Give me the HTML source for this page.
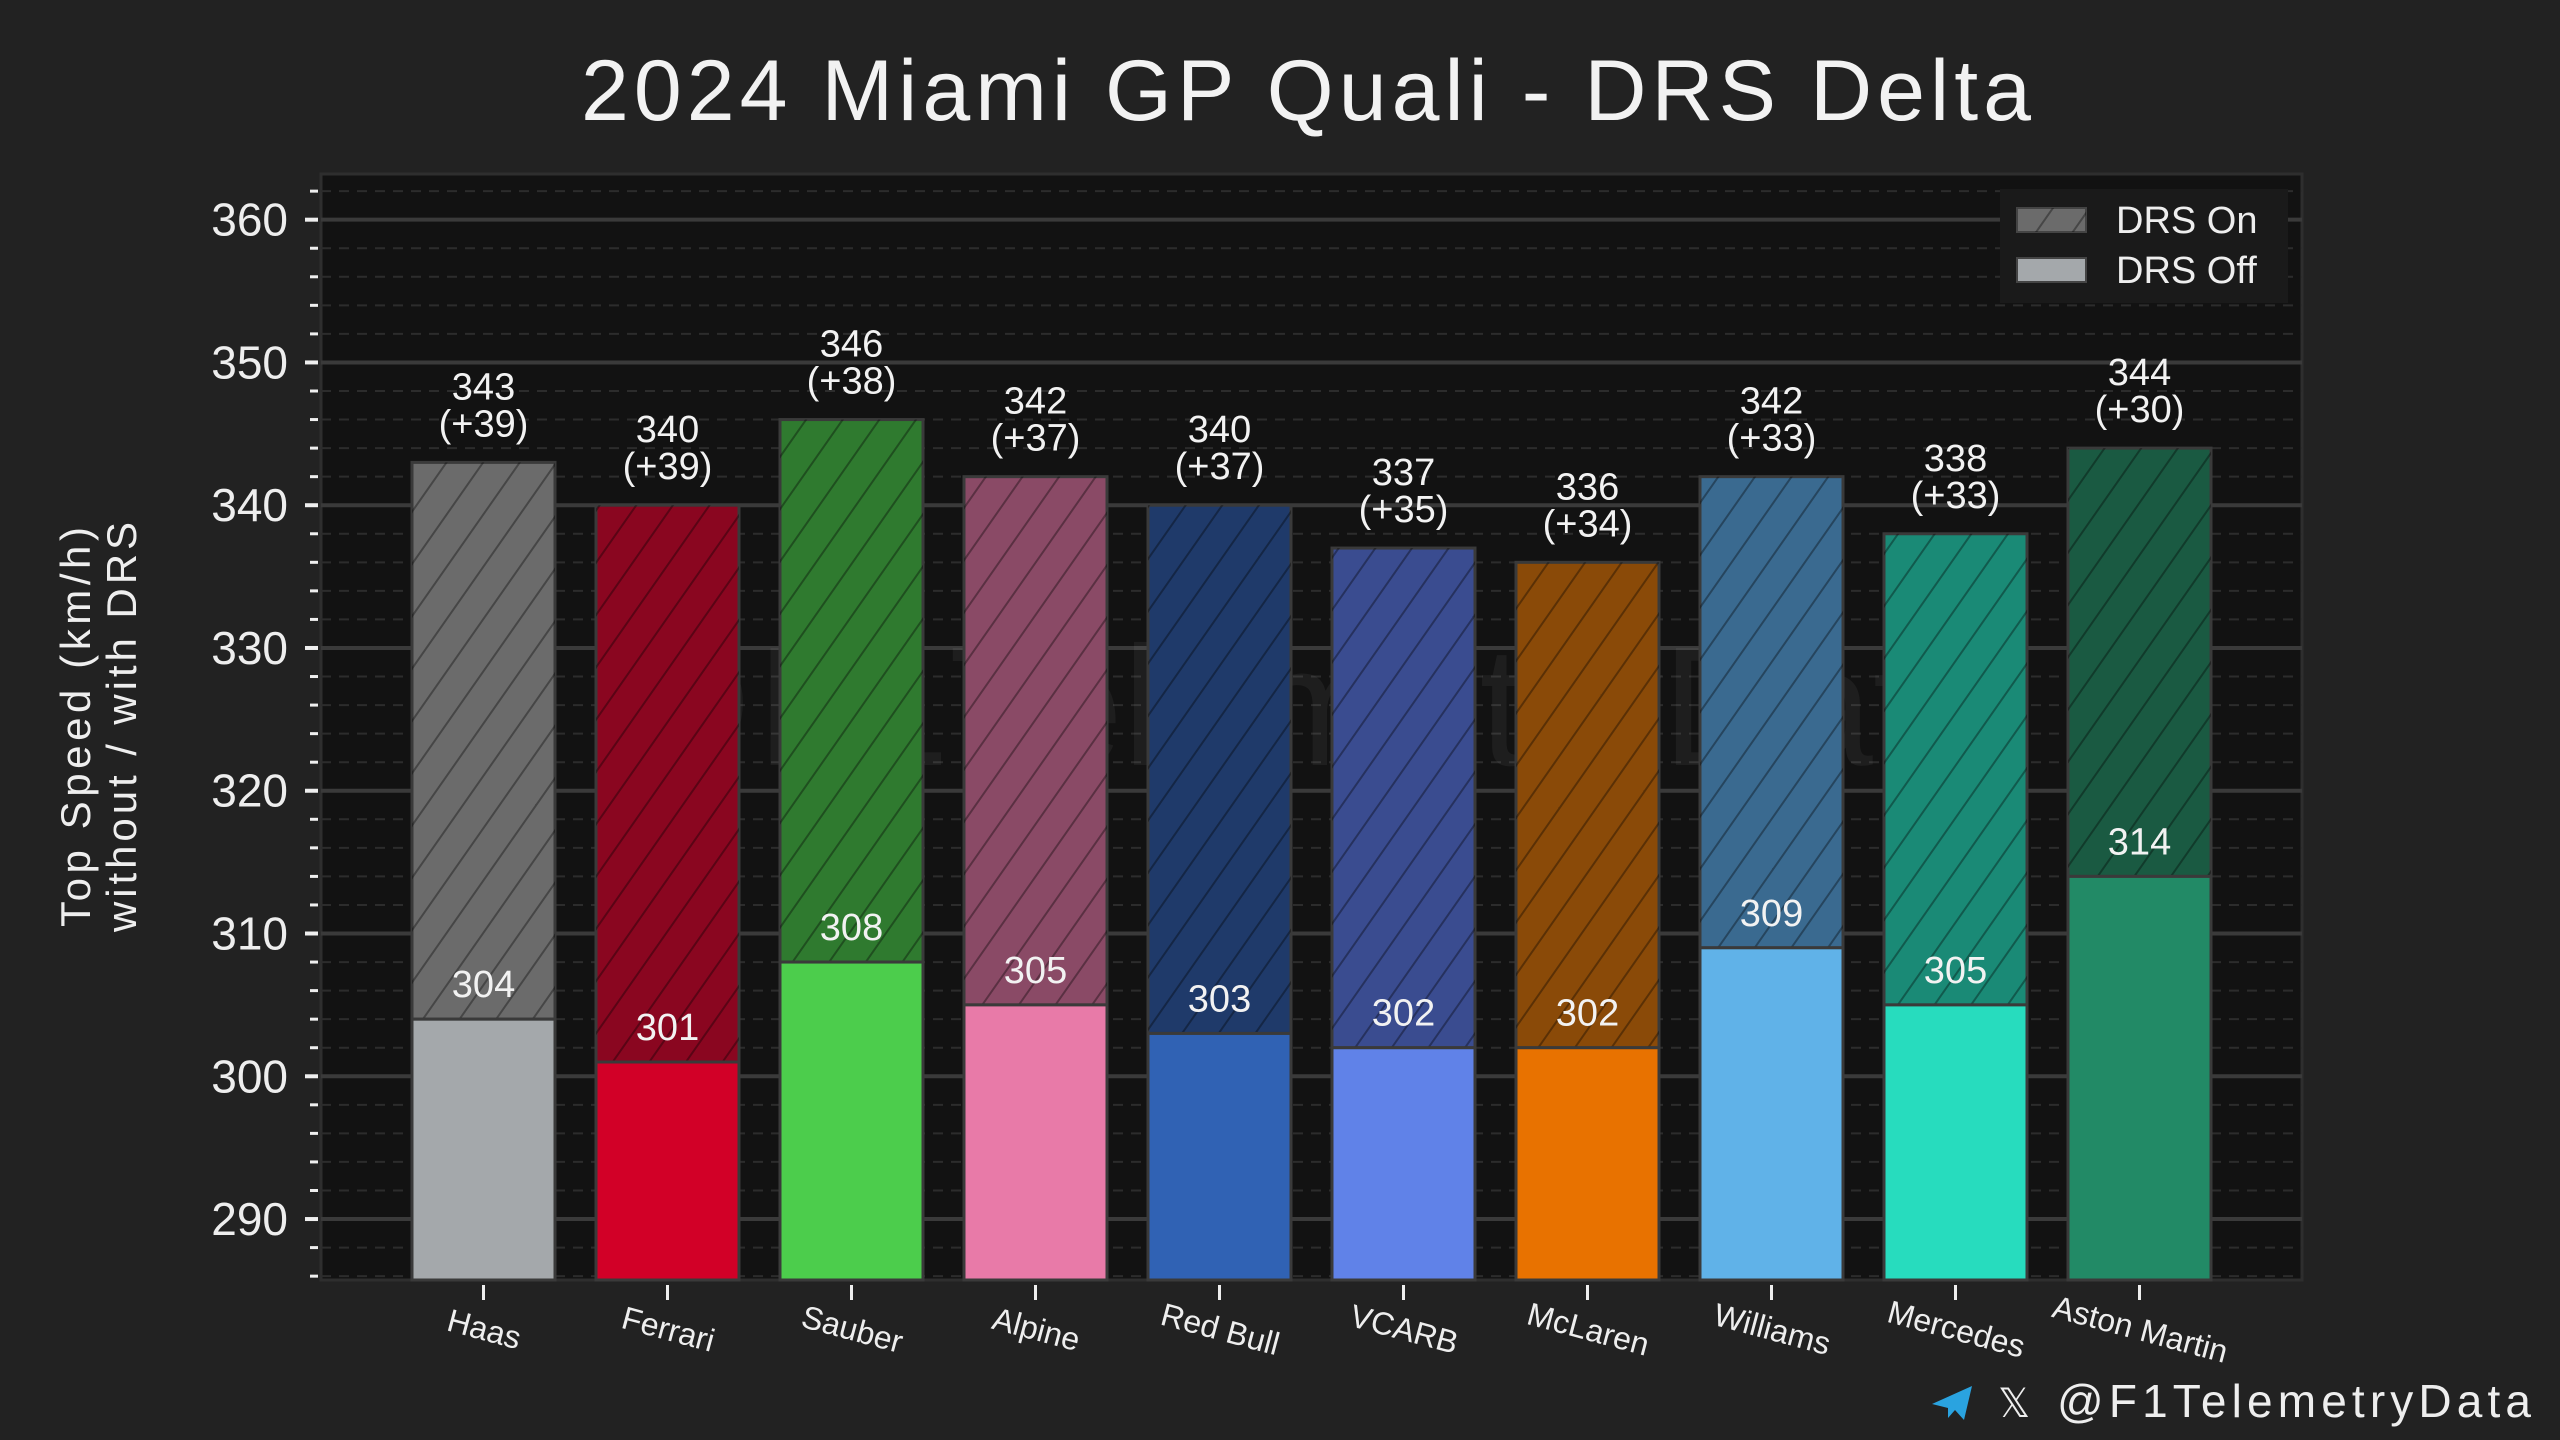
<!DOCTYPE html>
<html><head><meta charset="utf-8"><style>
html,body{margin:0;padding:0;background:#222222;}
svg{display:block;font-family:"Liberation Sans","DejaVu Sans",sans-serif;}
</style></head><body>
<svg id="chart" width="2560" height="1440" viewBox="0 0 2560 1440" xmlns="http://www.w3.org/2000/svg">
<defs>
<pattern id="hatch" patternUnits="userSpaceOnUse" width="30" height="30" patternTransform="rotate(35)">
<line x1="0" y1="0" x2="0" y2="30" stroke="#000" stroke-opacity="0.35" stroke-width="4"/>
</pattern>
</defs>
<rect width="2560" height="1440" fill="#222222"/>
<text x="1306" y="120" text-anchor="middle" font-size="86" fill="#f2f2f2" textLength="1450" lengthAdjust="spacing">2024 Miami GP Quali - DRS Delta</text>
<rect x="321" y="174" width="1981" height="1106" fill="#121212" stroke="#2e2e2e" stroke-width="3"/>
<g id="grid"></g>
<text x="1300" y="765" text-anchor="middle" font-size="170" fill="#ffffff" fill-opacity="0.05" textLength="1420" lengthAdjust="spacingAndGlyphs">@F1TelemetryData</text>
<g id="bars"></g>
<g id="yaxis"></g>
<g id="xaxis"></g>
<g transform="translate(100,727) rotate(-90)">
<text x="0" y="-10" text-anchor="middle" font-size="42" fill="#eeeeee" textLength="400" lengthAdjust="spacing">Top Speed (km/h)</text>
<text x="0" y="36" text-anchor="middle" font-size="42" fill="#eeeeee" textLength="410" lengthAdjust="spacing">without / with DRS</text>
</g>
<g>
<rect x="2000" y="189" width="288" height="114" fill="#1a1a1a"/>
<g>
<rect x="2017" y="208" width="69" height="24" fill="#6b6b6b" stroke="#444" stroke-width="2"/>
<rect x="2017" y="208" width="69" height="24" fill="url(#hatch)"/>
<text x="2116" y="233" font-size="38" fill="#eeeeee">DRS On</text>
</g>
<g>
<rect x="2017" y="258" width="69" height="24" fill="#a4a8ab" stroke="#444" stroke-width="2"/>
<text x="2116" y="283" font-size="38" fill="#eeeeee">DRS Off</text>
</g>
</g>
<g>
<path d="M1932 1404 L1972 1386 L1964 1420 L1955 1410 L1948 1418 L1948 1408 Z" fill="#2aa3e0"/>
<text x="1998" y="1417" font-size="40" fill="#eeeeee">𝕏</text>
<text x="2057" y="1417" font-size="46" fill="#eeeeee" textLength="474" lengthAdjust="spacing">@F1TelemetryData</text>
</g>
</svg>
<script>
const teams = ["Haas","Ferrari","Sauber","Alpine","Red Bull","VCARB","McLaren","Williams","Mercedes","Aston Martin"];
const drsOff = [304,301,308,305,303,302,302,309,305,314];
const drsOn = [343,340,346,342,340,337,336,342,338,344];
const offColors = ["#a4a8ab","#d20027","#4ccd4c","#e87aa8","#3062b4","#6082e8","#e87200","#60b2e8","#27dcbe","#228a66"];
const onColors = ["#6b6b6b","#8a0620","#2f7a2f","#8a4a66","#1f3a6a","#3a4c90","#8a4a08","#3a6a90","#1a8a76","#1a5a42"];
const yTicks = [290,300,310,320,330,340,350,360];

const NS="http://www.w3.org/2000/svg";
const plotL=321, plotR=2302, plotT=174, plotB=1280;
const yMin=285.73, yMax=363.2;
function y(v){return plotB-(v-yMin)/(yMax-yMin)*(plotB-plotT);}
function xc(i){return 483.5+i*184;}
const bw=143;
function mk(tag,attrs,parent){const e=document.createElementNS(NS,tag);for(const k in attrs)e.setAttribute(k,attrs[k]);parent.appendChild(e);return e;}
const grid=document.getElementById('grid'), bars=document.getElementById('bars'), ya=document.getElementById('yaxis'), xa=document.getElementById('xaxis');
for(let v=286;v<=363;v+=2){
  const yy=y(v);
  const major=v%10===0;
  const l=mk('line',{x1:plotL,x2:plotR,y1:yy,y2:yy,stroke:major?'#3a3a3a':'#2c2c2c','stroke-width':major?4:2,'stroke-dasharray':major?'none':'10 8'},grid);
  
  
  const t=mk('line',{x1:major?305:310,x2:plotL-3,y1:yy,y2:yy,stroke:'#eeeeee','stroke-width':major?4:3},ya);
  
  
}
yTicks.forEach(v=>{
  const t=mk('text',{x:288,y:y(v)+16,'text-anchor':'end','font-size':46,fill:'#eeeeee'},ya);
  t.textContent=v;
  
  
});
teams.forEach((team,i)=>{
  const cx=xc(i), x0=cx-bw/2;
  const g=mk('g',{},bars);
  
  
  const on=mk('rect',{x:x0,y:y(drsOn[i]),width:bw,height:y(drsOff[i])-y(drsOn[i]),fill:onColors[i],stroke:'#3a3a3a','stroke-width':3},g);
  
  
  const h=mk('rect',{x:x0,y:y(drsOn[i]),width:bw,height:y(drsOff[i])-y(drsOn[i]),fill:'url(#hatch)'},g);
  
  
  const off=mk('rect',{x:x0,y:y(drsOff[i]),width:bw,height:plotB-y(drsOff[i]),fill:offColors[i],stroke:'#3a3a3a','stroke-width':3},g);
  
  
  const t1=mk('text',{x:cx,y:y(drsOn[i])-63,'text-anchor':'middle','font-size':38,fill:'#f2f2f2'},g);
  t1.textContent=drsOn[i];
  
  
  const t2=mk('text',{x:cx,y:y(drsOn[i])-26,'text-anchor':'middle','font-size':38,fill:'#f2f2f2'},g);
  t2.textContent='(+'+(drsOn[i]-drsOff[i])+')';
  
  
  const t3=mk('text',{x:cx,y:y(drsOff[i])-22,'text-anchor':'middle','font-size':38,fill:'#f2f2f2'},g);
  t3.textContent=drsOff[i];
  
  
  const tk=mk('line',{x1:cx,x2:cx,y1:plotB+5,y2:plotB+20,stroke:'#eeeeee','stroke-width':3},xa);
  
  
  const tl=mk('text',{x:cx,y:plotB+60,'text-anchor':'middle','font-size':32,fill:'#eeeeee',transform:'rotate(15 '+cx+' '+(plotB+52)+')'},xa);
  tl.textContent=team;
  
  
});
</script>
</body></html>
